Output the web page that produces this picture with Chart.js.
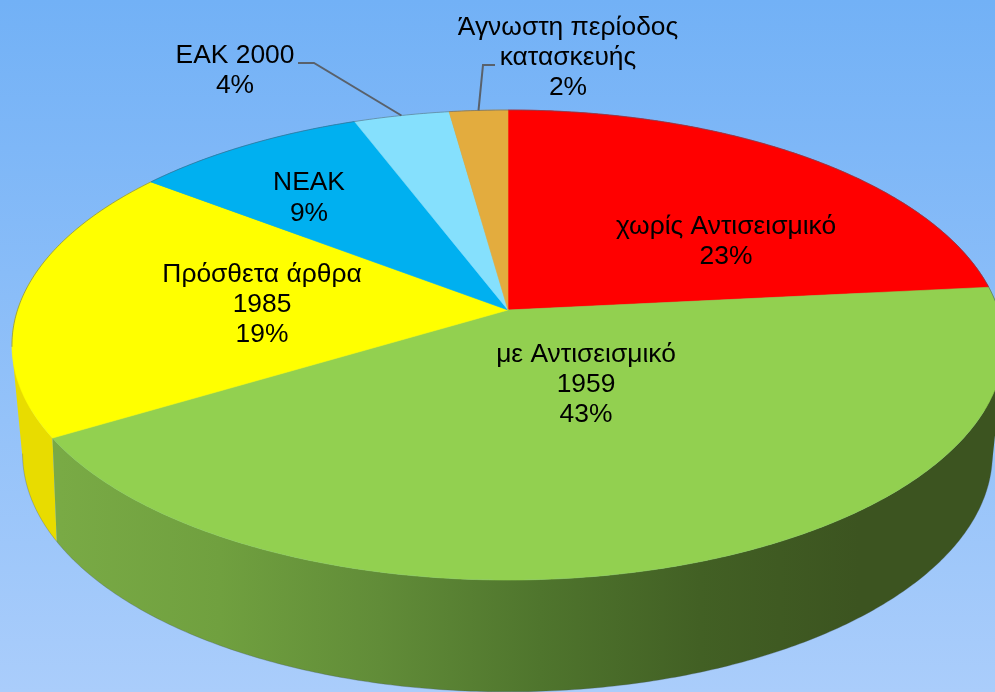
<!DOCTYPE html>
<html>
<head>
<meta charset="utf-8">
<script src="https://cdn.jsdelivr.net/npm/chart.js"></script>
<style>
  html, body { margin: 0; padding: 0; }
  body { width: 995px; height: 692px; overflow: hidden; background: linear-gradient(#72b1f6, #aacdfb); }
  canvas { display: block; }
</style>
</head>
<body>
<canvas id="myChart" width="995" height="692"></canvas>
<script>
const categories = ['χωρίς Αντισεισμικό', 'με Αντισεισμικό', 'Πρόσθετα άρθρα', 'ΝΕΑΚ', 'ΕΑΚ 2000', 'Άγνωστη περίοδος κατασκευής'];
// wedge sizes, the printed percentages are below
const values = [23.4, 43, 19, 8.8, 3.6, 2.2];
const labelLines = [
  ['χωρίς Αντισεισμικό', '23%'],
  ['με Αντισεισμικό', '1959', '43%'],
  ['Πρόσθετα άρθρα', '1985', '19%'],
  ['ΝΕΑΚ', '9%'],
  ['ΕΑΚ 2000', '4%'],
  ['Άγνωστη περίοδος', 'κατασκευής', '2%']
];
const colors = ['#ff0000', '#92d050', '#ffff00', '#00b0f0', '#85e0fd', '#e3ac3e'];
const sideColors = [
  ['#a00000', '#a00000'],
  ['#79aa45', '#70a03f', '#618c38', '#4f752d', '#426024', '#3c5420'],
  ['#e8dc00', '#efe000'],
  ['#007aa8', '#007aa8'],
  ['#5c9db2', '#5c9db2'],
  ['#9e782b', '#9e782b']
];

// label anchor: centre x, first baseline, line height
const labelPlaces = [[726, 234, 29.5], [586, 362, 30], [262, 282, 30], [309, 190, 31], [235, 63, 30], [568, 35, 30]];
// elbow of the two leader lines: slice index, start of the line, elbow
const leaders = [[4, [298, 63], [314, 63]], [5, [495, 65], [483, 65]]];

// the pie lies on a plane seen in perspective, top face and bottom face
const topFace = { cx: 508, cy: 310, a: 490.5, b: 229.8, p: 0.149 };
const bottomFace = { cx: 507.5, cy: 411, a: 477, b: 230.3, p: 0.18 };

function project(face, angle) {
  const w = 1 - face.p * Math.sin(angle);
  return [face.cx + face.a * Math.cos(angle) / w, face.cy + face.b * Math.sin(angle) / w];
}

function rimPoints(face, start, end) {
  const pts = [];
  const n = Math.max(2, Math.ceil((end - start) / 0.01));
  for (let i = 0; i <= n; i++) {
    pts.push(project(face, start + (end - start) * i / n));
  }
  return pts;
}

function tracePoints(ctx, pts) {
  pts.forEach((pt, i) => i === 0 ? ctx.moveTo(pt[0], pt[1]) : ctx.lineTo(pt[0], pt[1]));
}

// same winding for every quad, so one fill of the whole path leaves no seams
function wound(quad) {
  let area = 0;
  quad.forEach((pt, i) => {
    const next = quad[(i + 1) % quad.length];
    area += pt[0] * next[1] - next[0] * pt[1];
  });
  return area < 0 ? quad.slice().reverse() : quad;
}

const pie3d = {
  id: 'pie3d',
  beforeDatasetsDraw(chart) {
    const ctx = chart.ctx;
    const arcs = chart.getDatasetMeta(0).data;
    ctx.save();

    // side wall, one small quad per rim step, back slices first
    const order = arcs.map((arc, i) => i).sort((i, j) =>
      Math.sin((arcs[i].startAngle + arcs[i].endAngle) / 2) - Math.sin((arcs[j].startAngle + arcs[j].endAngle) / 2));
    order.forEach(i => {
      const arc = arcs[i];
      const stops = sideColors[i];
      const grad = ctx.createLinearGradient(60, 0, 860, 0);
      stops.forEach((c, k) => grad.addColorStop(k / (stops.length - 1), c));
      const upper = rimPoints(topFace, arc.startAngle, arc.endAngle);
      const lower = rimPoints(bottomFace, arc.startAngle, arc.endAngle);
      ctx.beginPath();
      for (let k = 0; k < upper.length - 1; k++) {
        tracePoints(ctx, wound([upper[k], upper[k + 1], lower[k + 1], lower[k]]));
        ctx.closePath();
      }
      ctx.fillStyle = grad;
      ctx.fill();
    });

    // grey edge under the wall
    ctx.beginPath();
    tracePoints(ctx, rimPoints(bottomFace, 0.18, Math.PI - 0.18));
    ctx.strokeStyle = 'rgba(70, 85, 95, 0.3)';
    ctx.lineWidth = 1;
    ctx.stroke();

    // top face
    arcs.forEach((arc, i) => {
      ctx.beginPath();
      tracePoints(ctx, [[topFace.cx, topFace.cy]].concat(rimPoints(topFace, arc.startAngle, arc.endAngle)));
      ctx.closePath();
      ctx.fillStyle = arc.options.backgroundColor;
      ctx.fill();
      ctx.strokeStyle = arc.options.backgroundColor;
      ctx.lineWidth = 0.6;
      ctx.stroke();
    });

    // thin grey edge on the back of the rim
    ctx.beginPath();
    tracePoints(ctx, rimPoints(topFace, Math.PI * 0.95, Math.PI * 2.0));
    ctx.strokeStyle = 'rgba(80, 95, 120, 0.55)';
    ctx.lineWidth = 1;
    ctx.stroke();

    // leader lines end on the middle of their slice
    leaders.forEach(([i, from, elbow]) => {
      const end = project(topFace, (arcs[i].startAngle + arcs[i].endAngle) / 2);
      ctx.beginPath();
      tracePoints(ctx, [from, elbow, end]);
      ctx.strokeStyle = '#59616b';
      ctx.lineWidth = 2;
      ctx.stroke();
    });

    // labels
    ctx.fillStyle = '#000000';
    ctx.font = '26.4px "Liberation Sans", Arial, sans-serif';
    ctx.textAlign = 'center';
    ctx.textBaseline = 'alphabetic';
    labelLines.forEach((lines, i) => {
      const [x, y, step] = labelPlaces[i];
      lines.forEach((line, k) => ctx.fillText(line, x, y + k * step));
    });

    ctx.restore();
    return false;
  }
};

const chart = new Chart(document.getElementById('myChart').getContext('2d'), {
  type: 'pie',
  data: {
    labels: categories,
    datasets: [{ data: values, backgroundColor: colors, borderWidth: 0 }]
  },
  options: {
    responsive: false,
    animation: false,
    plugins: { legend: { display: false }, tooltip: { enabled: false } }
  },
  plugins: [pie3d]
});
</script>
</body>
</html>
